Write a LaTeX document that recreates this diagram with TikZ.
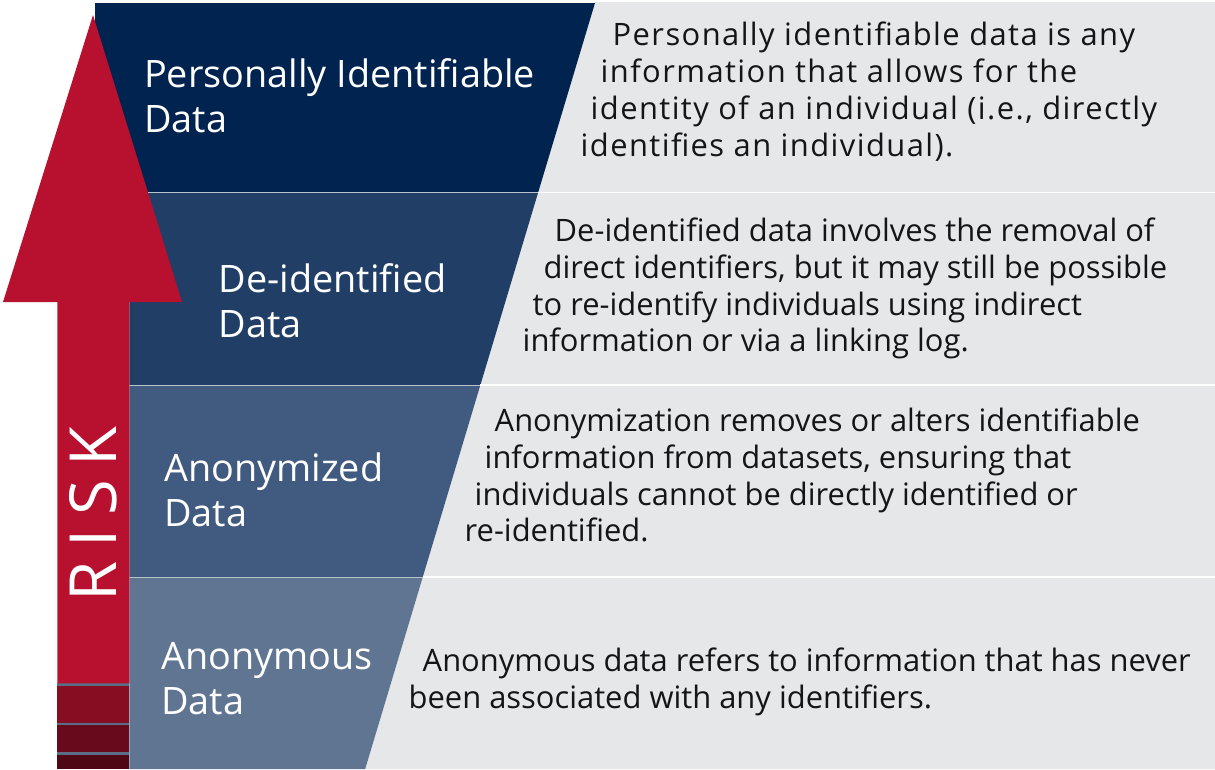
\documentclass[tikz,border=0pt]{standalone}
\usepackage{fontspec}
\setmainfont{Open Sans}
\definecolor{bandA}{HTML}{00234F}
\definecolor{bandB}{HTML}{213E66}
\definecolor{bandC}{HTML}{405B7F}
\definecolor{bandD}{HTML}{5F7592}
\definecolor{greybg}{HTML}{E6E7E9}
\definecolor{riskred}{HTML}{B8102F}
\definecolor{stripeA}{HTML}{860D22}
\definecolor{stripeB}{HTML}{690A1C}
\definecolor{stripeC}{HTML}{4F0716}
\definecolor{gapcol}{HTML}{5A6E8A}
\definecolor{sepblue}{HTML}{B9C3D0}
\definecolor{desctext}{HTML}{151515}
\tikzset{
  desc/.style={anchor=base west, inner sep=0pt, align=left, text=desctext,
    font=\fontsize{30.9}{36.7}\selectfont},
  label/.style={anchor=base west, inner sep=0pt, align=left, text=white,
    font=\fontsize{37.8}{44.5}\selectfont},
  sepgrey/.style={draw=white, line width=1.5pt},
  sepband/.style={draw=sepblue, line width=1pt}
}
\begin{document}
\begin{tikzpicture}[x=1pt,y=-1pt]
\useasboundingbox (0,0) rectangle (1215,769);
% grey right area
\fill[greybg] (595.3,2) -- (1215,2) -- (1215,769) -- (365.2,769) -- cycle;
% bands
\fill[bandA] (95,3) -- (595,3) -- (538.15,192.5) -- (95,192.5) -- cycle;
\fill[bandB] (129.3,192.5) -- (538.15,192.5) -- (480.4,385) -- (129.3,385) -- cycle;
\fill[bandC] (129.3,385) -- (480.4,385) -- (422.8,577) -- (129.3,577) -- cycle;
\fill[bandD] (129.3,577) -- (422.8,577) -- (365.2,769) -- (129.3,769) -- cycle;
% separators
\coordinate (s1l) at (129.3,192.5); \coordinate (s1m) at (538.15,192.5); \coordinate (s1r) at (1215,192.5);
\coordinate (s2l) at (129.3,385);   \coordinate (s2m) at (480.4,385);   \coordinate (s2r) at (1215,385);
\coordinate (s3l) at (129.3,577);   \coordinate (s3m) at (422.8,577);   \coordinate (s3r) at (1215,577);
\draw[sepband] (s1l) -- (s1m); \draw[sepgrey] (s1m) -- (s1r);
\draw[sepband] (s2l) -- (s2m); \draw[sepgrey] (s2m) -- (s2r);
\draw[sepband] (s3l) -- (s3m); \draw[sepgrey] (s3m) -- (s3r);
% risk arrow
\fill[gapcol] (57.3,683) rectangle (129.3,769);
\fill[riskred] (93,15) -- (182,302) -- (129.3,302) -- (129.3,683.3) -- (57.3,683.3) -- (57.3,302) -- (3,302) -- cycle;
\fill[stripeA] (57.3,686) rectangle (129.3,723.3);
\fill[stripeB] (57.3,725.2) rectangle (129.3,752.3);
\fill[stripeC] (57.3,755) rectangle (129.3,769);
\node[rotate=90, inner sep=0pt, text=white, font=\fontsize{65}{65}\selectfont\addfontfeatures{LetterSpace=21.5}] (risk) at (93.5,514) {RISK};
% labels
\node[label] (l1) at (144,132) {Personally Identifiable\\Data};
\node[label] (l2) at (218.5,337) {De-identified\\Data};
\node[label] (l3) at (164,526) {Anonymized\\Data};
\node[label] (l4) at (161,714) {Anonymous\\Data};
% descriptions
\node[desc, font=\fontsize{30.9}{36.7}\selectfont\addfontfeatures{LetterSpace=4.6}] (d1) at (580.5,156) {\hspace*{32pt}Personally identifiable data is any\\\hspace*{20pt}information that allows for the\\\hspace*{10pt}identity of an individual (i.e., directly\\identifies an individual).};
\node[desc] (d2) at (522.5,351.7) {\hspace*{32pt}De-identified data involves the removal of\\\hspace*{21pt}direct identifiers, but it may still be possible\\\hspace*{10pt}to re-identify individuals using indirect\\information or via a linking log.};
\node[desc] (d3) at (464.5,541.7) {\hspace*{30pt}Anonymization removes or alters identifiable\\\hspace*{20pt}information from datasets, ensuring that\\\hspace*{10pt}individuals cannot be directly identified or\\re-identified.};
\node[desc] (d4) at (408.5,708) {\hspace*{14pt}Anonymous data refers to information that has never\\been associated with any identifiers.};
\end{tikzpicture}
\end{document}
